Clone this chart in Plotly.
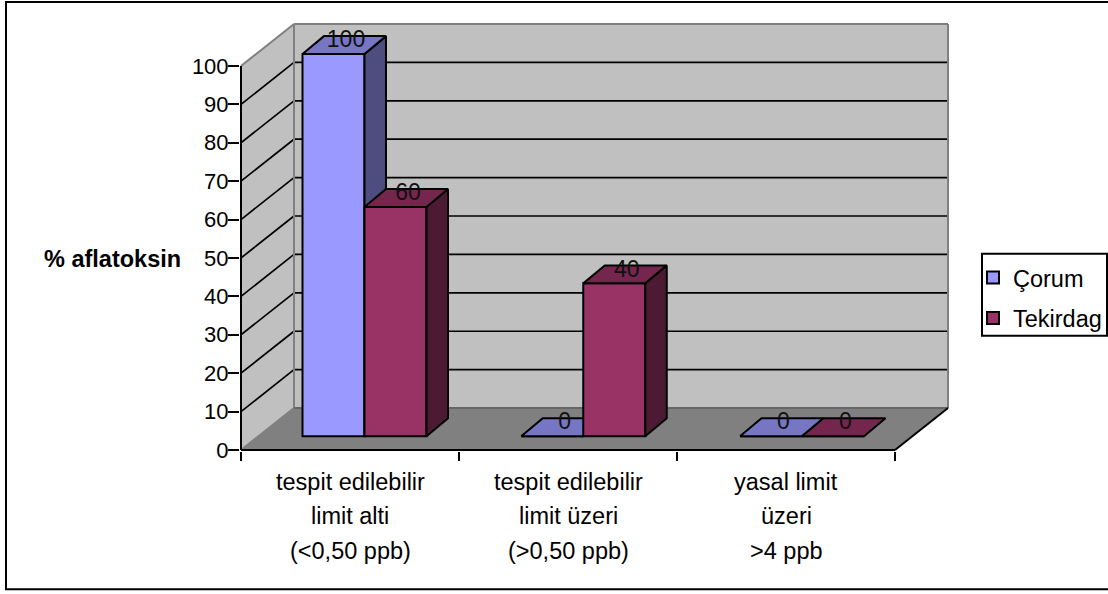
import plotly.graph_objects as go

categories = [
    ["tespit edilebilir", "limit alti", "(<0,50 ppb)"],
    ["tespit edilebilir", "limit üzeri", "(>0,50 ppb)"],
    ["yasal limit", "üzeri", ">4 ppb"],
]
series_names = ["Çorum", "Tekirdag"]
corum = [100, 0, 0]
tekirdag = [60, 40, 0]
y_ticks = list(range(0, 101, 10))
y_title = "% aflatoksin"

W, H = 1108, 594
PX_L, PX_B = 241.0, 450.5   # pixel of x=0, y=0
PX_X, PX_Y = 218.0, 3.845   # pixels per category, per percent
PAD = 1.0
BACK_DX, BACK_DY = 53 / PX_X, 42 / PX_Y          # depth of the box
BAR_DX, BAR_DY = 21.5 / PX_X, 18 / PX_Y          # depth of a bar
BASE = 13.8 / PX_Y                               # bar foot above the axis
BAR_SCALE = 0.995
BAR_W = 62 / PX_X
BAR_L0, BAR_STEP = 61.5 / PX_X, 218.75 / PX_X
N = len(categories)

WALL, FLOOR, EDGE = "#C0C0C0", "#808080", "#808080"
COLORS = [("#9999FF", "#7676C4", "#4D4D80"), ("#993366", "#74264D", "#4D1A33")]
FONT = "Liberation Sans, Arial, sans-serif"
FS = 22

x0, x1 = -PAD / PX_X, (948 + 2 - PX_L) / PX_X
y0, y1 = -PAD / PX_Y, (PX_B - 22) / PX_Y
m_l = PX_L - PAD
m_r = W - 950
m_t = 22
m_b = H - PX_B - PAD


def px_x(p):
    return (p - m_l) / (W - m_l - m_r)


def px_y(p):
    return 1 - (p - m_t) / (H - m_t - m_b)


def seg(xa, ya, xb, yb, color="black", width=1.7):
    return dict(type="line", xref="x", yref="y", x0=xa, y0=ya, x1=xb, y1=yb,
                layer="below", line=dict(color=color, width=width))


def poly(pts, fill, line=None):
    path = "M" + "L".join(f"{a},{b}" for a, b in pts) + "Z"
    return dict(type="path", xref="x", yref="y", path=path, layer="below",
                fillcolor=fill, line=dict(color=line or fill, width=1))


fig = go.Figure()
shapes = [
    poly([(0, 0), (0, 100), (BACK_DX, 100 + BACK_DY), (BACK_DX, BACK_DY)], WALL),
    poly([(BACK_DX, BACK_DY), (BACK_DX, 100 + BACK_DY), (N + BACK_DX, 100 + BACK_DY), (N + BACK_DX, BACK_DY)], WALL),
    poly([(0, 0), (N, 0), (N + BACK_DX, BACK_DY), (BACK_DX, BACK_DY)], FLOOR),
]
for v in y_ticks[1:-1]:
    shapes.append(seg(0, v, BACK_DX, v + BACK_DY))
    shapes.append(seg(BACK_DX, v + BACK_DY, N + BACK_DX, v + BACK_DY))
shapes += [
    seg(0, 100, BACK_DX, 100 + BACK_DY, EDGE, 2),
    seg(BACK_DX, 100 + BACK_DY, N + BACK_DX, 100 + BACK_DY, EDGE, 2),
    seg(N + BACK_DX, 100 + BACK_DY, N + BACK_DX, BACK_DY, EDGE, 2),
    seg(BACK_DX, 100 + BACK_DY, BACK_DX, BACK_DY, EDGE, 2),
    seg(BACK_DX, BACK_DY, N + BACK_DX, BACK_DY, "#666666", 2),
    seg(0, 0, BACK_DX, BACK_DY, EDGE, 2),
    seg(N, 0, N + BACK_DX, BACK_DY, "black", 2),
    seg(0, 0, N, 0, "black", 2),
    seg(0, 0, 0, 100, "black", 2),
]
# chart frame and legend box
shapes.append(dict(type="rect", xref="paper", yref="paper",
                   x0=px_x(6), x1=px_x(1120), y0=px_y(590), y1=px_y(2),
                   line=dict(color="black", width=2), layer="below"))
shapes.append(dict(type="rect", xref="paper", yref="paper",
                   x0=px_x(982), x1=px_x(1107), y0=px_y(336), y1=px_y(254),
                   fillcolor="white", line=dict(color="black", width=2), layer="below"))

for s, (name, values) in enumerate(zip(series_names, [corum, tekirdag])):
    front, top_c, side_c = COLORS[s]
    ax = {} if s == 0 else dict(xaxis="x2", yaxis="y2")
    lefts = [BAR_L0 + i * BAR_STEP + s * BAR_W for i in range(N)]
    heights = [v * BAR_SCALE for v in values]
    fig.add_trace(go.Bar(
        x=[l + BAR_W / 2 for l in lefts], y=heights, base=[BASE] * N, width=BAR_W,
        name=name, legendgroup=name, marker=dict(color=front, line=dict(color="black", width=2)),
        hoverinfo="skip", **ax))
    sx, sy, tx, ty = [], [], [], []
    for l, h in zip(lefts, heights):
        r = l + BAR_W
        t = BASE + h
        if h > 0:
            sx += [r, r + BAR_DX, r + BAR_DX, r, r, None]
            sy += [BASE, BASE + BAR_DY, t + BAR_DY, t, BASE, None]
        tx += [l, r, r + BAR_DX, l + BAR_DX, l, None]
        ty += [t, t, t + BAR_DY, t + BAR_DY, t, None]
    for px, py, col in ((sx, sy, side_c), (tx, ty, top_c)):
        fig.add_trace(go.Scatter(x=px, y=py, mode="lines", fill="toself", fillcolor=col,
                                 line=dict(color="black", width=2), showlegend=False,
                                 hoverinfo="skip", **ax))

# data labels on top
lab_x, lab_y, lab_t = [], [], []
for s, values in enumerate([corum, tekirdag]):
    for i, v in enumerate(values):
        lab_x.append(BAR_L0 + i * BAR_STEP + s * BAR_W + BAR_W / 2 + 12.5 / PX_X)
        lab_y.append(BASE + v * BAR_SCALE + 12.5 / PX_Y)
        lab_t.append(str(v))
fig.add_trace(go.Scatter(x=lab_x, y=lab_y, text=lab_t, mode="text", textposition="middle center",
                         textfont=dict(family=FONT, size=23, color="#111111"), showlegend=False,
                         hoverinfo="skip", xaxis="x2", yaxis="y2", cliponaxis=False))

annotations = [dict(text=f"<b>{y_title}</b>", xref="paper", yref="paper", x=px_x(113), y=px_y(259),
                    showarrow=False, xanchor="center", yanchor="middle",
                    font=dict(family=FONT, size=23.5, color="black"))]
LINE_PX = [483, 517, 552]
for i, lines in enumerate(categories):
    for line, py in zip(lines, LINE_PX):
        annotations.append(dict(text=line, xref="x", yref="paper", x=i + 0.5, y=px_y(py),
                                showarrow=False, xanchor="center", yanchor="middle",
                                font=dict(family=FONT, size=23.5, color="black")))

fig.update_layout(
    width=W, height=H, margin=dict(l=m_l, r=m_r, t=m_t, b=m_b, autoexpand=False, pad=0),
    paper_bgcolor="white", plot_bgcolor="white", barmode="overlay", shapes=shapes,
    annotations=annotations, font=dict(family=FONT, size=FS, color="black"),
    xaxis=dict(range=[x0, x1], tickvals=list(range(N + 1)), ticktext=[""] * (N + 1), ticks="outside",
               ticklen=9, tickwidth=2, tickcolor="black", showgrid=False, zeroline=False, showline=False),
    yaxis=dict(range=[y0, y1], tickvals=y_ticks, ticks="outside", ticklen=11, tickwidth=2,
               tickcolor="black", showgrid=False, zeroline=False, showline=False, ticklabelstandoff=-5,
               tickfont=dict(family=FONT, size=FS, color="black")),
    xaxis2=dict(range=[x0, x1], overlaying="x", visible=False),
    yaxis2=dict(range=[y0, y1], overlaying="y", visible=False),
    legend=dict(x=px_x(973), y=px_y(256), xanchor="left", yanchor="top", bgcolor="rgba(0,0,0,0)",
                borderwidth=0, font=dict(family=FONT, size=23.5, color="black"),
                itemwidth=30, traceorder="grouped", tracegroupgap=7,
                itemclick=False, itemdoubleclick=False),
)
fig.write_html("out.html", config={"displayModeBar": False},
               post_script="document.body.style.margin='0';document.documentElement.style.overflow='hidden';")
